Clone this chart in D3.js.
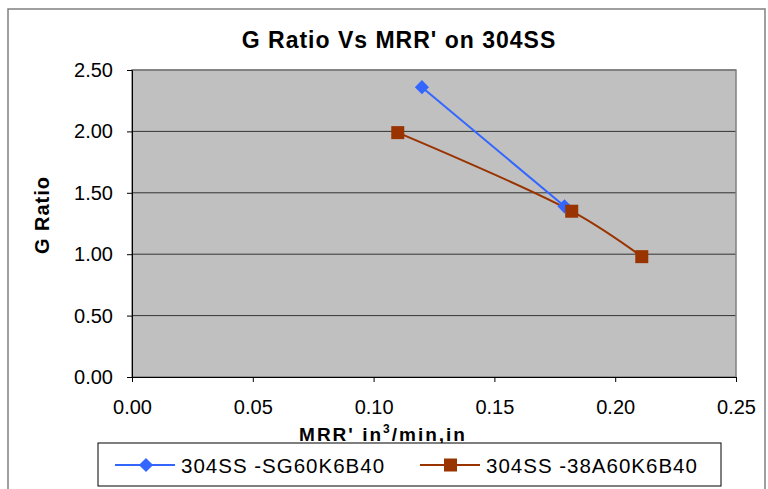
<!DOCTYPE html>
<html><head><meta charset="utf-8">
<script src="https://cdn.jsdelivr.net/npm/d3@7"></script>
<style>body{margin:0;background:#fff}svg{display:block;font-family:Arial,"Liberation Sans",sans-serif}</style>
</head><body>
<svg id="c" width="768" height="489"></svg>
<script>
const seriesNames = ["304SS -SG60K6B40", "304SS -38A60K6B40"];
const sgX = [0.12, 0.179];
const sgY = [2.36, 1.39];
const aX = [0.110, 0.182, 0.211];
const aY = [1.99, 1.35, 0.98];
const xTicks = [0, 0.05, 0.10, 0.15, 0.20, 0.25];
const yTicks = [0, 0.5, 1.0, 1.5, 2.0, 2.5];

const FF = "Arial,'Liberation Sans',sans-serif";
const svg = d3.select("#c");
const m = {l:132, r:736, t:70, b:377};
const x = d3.scaleLinear().domain([0,0.25]).range([m.l,m.r]);
const y = d3.scaleLinear().domain([0,2.5]).range([m.b,m.t]);

svg.append("rect").attr("x",8).attr("y",9).attr("width",757).attr("height",490)
  .attr("fill","#fff").attr("stroke","#808080").attr("stroke-width",1.5);

svg.append("rect").attr("x",m.l).attr("y",m.t).attr("width",m.r-m.l).attr("height",m.b-m.t)
  .attr("fill","#c0c0c0");

svg.append("g").selectAll("line").data(yTicks.filter(d=>d>0)).join("line")
  .attr("x1",m.l).attr("x2",m.r).attr("y1",d=>y(d)).attr("y2",d=>y(d))
  .attr("stroke","#333").attr("stroke-width",1);
svg.append("rect").attr("x",m.l).attr("y",m.t).attr("width",m.r-m.l).attr("height",m.b-m.t)
  .attr("fill","none").attr("stroke","#808080").attr("stroke-width",1.5);

const yAxis = svg.append("g").attr("transform",`translate(${m.l},0)`)
  .call(d3.axisLeft(y).tickValues(yTicks).tickFormat(d3.format(".2f")).tickSize(5).tickPadding(14));
const xAxis = svg.append("g").attr("transform",`translate(0,${m.b})`)
  .call(d3.axisBottom(x).tickValues(xTicks).tickFormat(d3.format(".2f")).tickSize(5).tickPadding(18));
[yAxis,xAxis].forEach(a=>{
  a.select(".domain").attr("stroke","#000");
  a.selectAll(".tick line").attr("stroke","#000");
  a.selectAll("text").attr("font-size",20).attr("fill","#000").attr("font-family",FF);
});

svg.append("text").attr("x",399).attr("y",48).attr("text-anchor","middle")
  .attr("font-size",23).attr("font-weight","bold").attr("letter-spacing",1).text("G Ratio Vs MRR' on 304SS");
svg.append("text").attr("transform","translate(49,215) rotate(-90)").attr("text-anchor","middle")
  .attr("font-size",20).attr("font-weight","bold").attr("letter-spacing",1).text("G Ratio");
const xt = svg.append("text").attr("x",383).attr("y",441).attr("text-anchor","middle")
  .attr("font-size",19).attr("font-weight","bold").attr("letter-spacing",2);
xt.append("tspan").text("MRR' in");
xt.append("tspan").attr("font-size",12).attr("dy",-8).text("3");
xt.append("tspan").attr("dy",8).text("/min,in");

const line = d3.line().x(d=>x(d[0])).y(d=>y(d[1]));
const sgData = sgX.map((v,i)=>[v,sgY[i]]);
const aData = aX.map((v,i)=>[v,aY[i]]);
svg.append("path").datum(sgData).attr("d",line).attr("fill","none").attr("stroke","#3366ff").attr("stroke-width",2);
svg.append("path").datum(aData).attr("d",line.curve(d3.curveCatmullRom.alpha(0.5))).attr("fill","none").attr("stroke","#993300").attr("stroke-width",2);

const diamond = d3.symbol().type(d3.symbolSquare).size(100);
svg.append("g").selectAll("path").data(sgData).join("path")
  .attr("transform",d=>`translate(${x(d[0])},${y(d[1])}) rotate(45)`).attr("d",diamond).attr("fill","#3366ff");
svg.append("g").selectAll("rect").data(aData).join("rect")
  .attr("x",d=>x(d[0])-6.5).attr("y",d=>y(d[1])-6.5).attr("width",13).attr("height",13).attr("fill","#993300");

// legend
const lg = svg.append("g");
lg.append("rect").attr("x",98).attr("y",443).attr("width",623).attr("height",43)
  .attr("fill","#fff").attr("stroke","#000").attr("stroke-width",1);
const items = [{x:115, c:"#3366ff", s:"d"},{x:420, c:"#993300", s:"s"}];
items.forEach((it,i)=>{
  lg.append("line").attr("x1",it.x).attr("x2",it.x+60).attr("y1",465).attr("y2",465).attr("stroke",it.c).attr("stroke-width",2);
  if(it.s==="d") lg.append("path").attr("transform",`translate(${it.x+31},465) rotate(45)`).attr("d",diamond).attr("fill",it.c);
  else lg.append("rect").attr("x",it.x+24).attr("y",458.5).attr("width",13).attr("height",13).attr("fill",it.c);
  lg.append("text").attr("x",it.x+66).attr("y",473).attr("font-size",20.5).attr("letter-spacing",1).text(seriesNames[i]);
});
</script>
</body></html>
